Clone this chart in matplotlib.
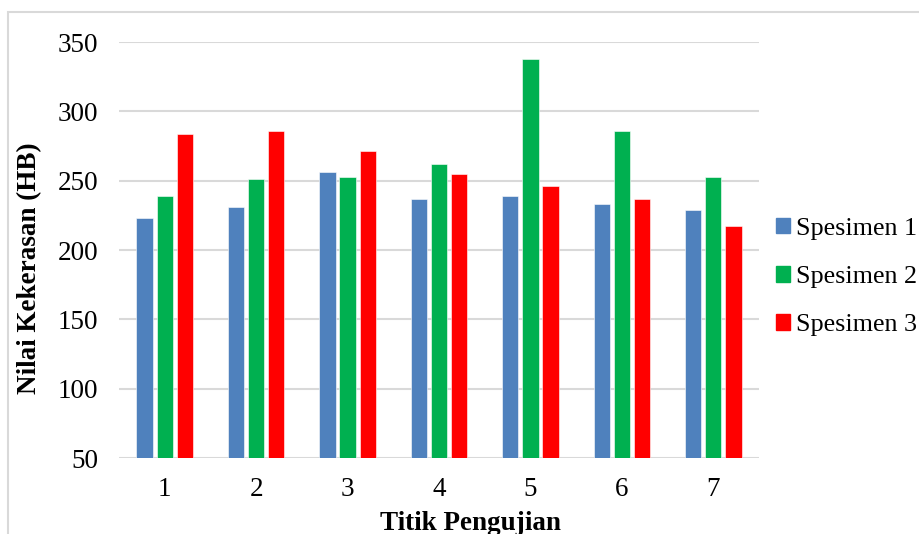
import matplotlib
matplotlib.use("Agg")
import matplotlib.pyplot as plt
import matplotlib.patches as mpatches
import numpy as np

categories = ["1", "2", "3", "4", "5", "6", "7"]
series_names = ["Spesimen 1", "Spesimen 2", "Spesimen 3"]
spesimen_1 = [223, 231, 256.5, 237, 239, 233, 229]
spesimen_2 = [239, 251, 253, 262, 337.5, 286, 253]
spesimen_3 = [284, 286, 271.5, 255, 246, 237, 217]
colors = ["#4F81BD", "#00B050", "#FF0000"]
y_ticks = [50, 100, 150, 200, 250, 300, 350]

W, H = 920, 534
plt.rcParams["font.family"] = ["Liberation Serif", "DejaVu Serif"]

fig = plt.figure(figsize=(W / 100, H / 100), dpi=100)

# chart frame
fig.patches.append(mpatches.Rectangle((8 / W, -0.1), 1.2, 1 - 12 / H + 0.1,
                                      transform=fig.transFigure, fill=False,
                                      edgecolor="#D9D9D9", linewidth=1.5))

ax = fig.add_axes([119 / W, (H - 458) / H, 640 / W, 416 / H])
x = np.arange(len(categories))
step = 0.22
width = 0.178
for i, (vals, name, c) in enumerate(zip([spesimen_1, spesimen_2, spesimen_3],
                                        series_names, colors)):
    ax.bar(x + (i - 1) * step, np.array(vals) - 50, width, bottom=50,
           color=c, label=name, zorder=3, edgecolor="white", linewidth=0.4)

ax.set_xlim(-0.5, len(categories) - 0.5)
ax.set_ylim(50, 350)
ax.set_yticks(y_ticks)
ax.set_xticks(x)
ax.set_xticklabels(categories)
ax.tick_params(axis="both", length=0, labelsize=19.5)
ax.tick_params(axis="y", pad=15)
ax.tick_params(axis="x", pad=14)
ax.grid(axis="y", color="#D9D9D9", linewidth=1.5, zorder=0)
for s in ax.spines.values():
    s.set_visible(False)

fig.text(30 / W, 1 - 268 / H, "Nilai Kekerasan (HB)", rotation=90,
         ha="center", va="center", fontsize=19.5, fontweight="bold")
fig.text(470 / W, 1 - 523 / H, "Titik Pengujian", ha="center", va="center",
         fontsize=19.5, fontweight="bold")

handles = [mpatches.Patch(color=c) for c in colors]
fig.legend(handles, series_names, loc="center left",
           bbox_to_anchor=(776 / W, 1 - 277 / H), frameon=False,
           fontsize=18.8, handlelength=0.55, handleheight=0.55,
           handletextpad=0.2, labelspacing=1.0, borderpad=0, borderaxespad=0)

fig.savefig("out.png", dpi=100)
